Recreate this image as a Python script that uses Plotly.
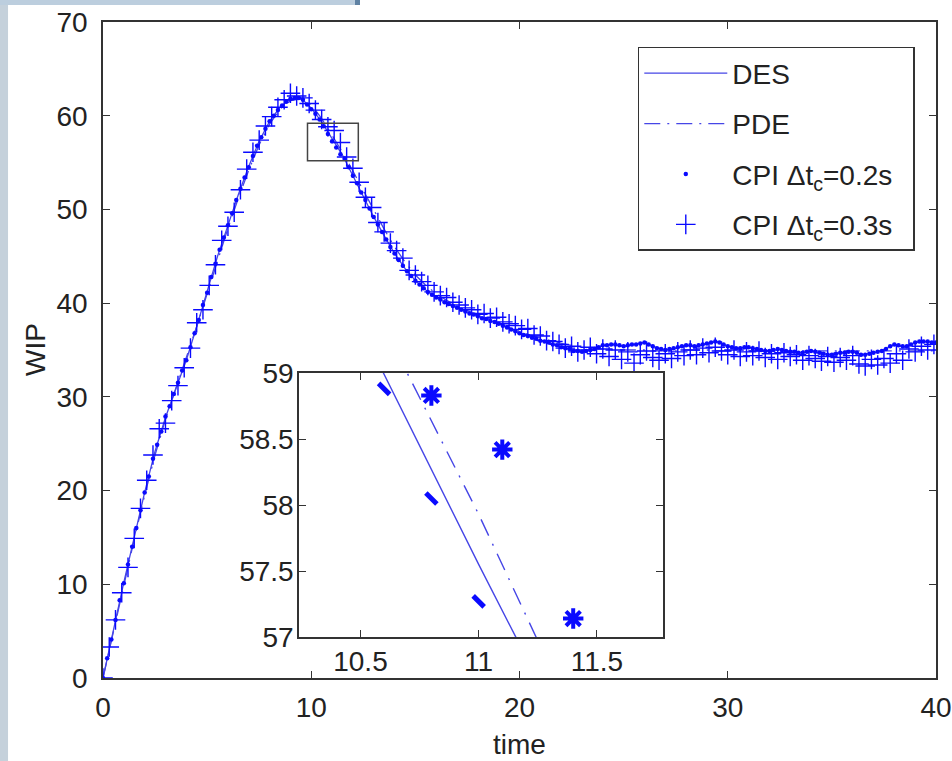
import plotly.graph_objects as go

# ---------------- data ----------------
DES_STEP = 0.5
des_wip = [
    0.0, 5.2, 10.2, 15.0, 19.8, 24.2, 27.8, 30.9, 33.9, 37.5,
    41.2, 45.0, 48.3, 51.6, 54.6, 57.3, 59.4, 60.9, 61.8, 61.9,
    60.8, 59.35, 57.55, 55.8, 53.6, 51.4, 49.2, 47.2, 45.3, 43.7,
    42.4, 41.4, 40.6, 40.0, 39.5, 39.0, 38.6, 38.2, 37.8, 37.3,
    36.8, 36.4, 36.0, 35.7, 35.3, 35.0, 34.8, 35.0, 35.5, 35.6,
    35.4, 35.6, 35.8, 35.3, 35.0, 35.2, 35.5, 35.4, 35.7, 35.9,
    35.4, 35.2, 35.3, 35.0, 34.9, 35.1, 34.8, 34.7, 34.9, 34.6,
    34.5, 34.7, 34.8, 34.5, 34.7, 35.0, 35.6, 35.3, 35.8, 35.9,
    35.8,
]

PDE_STEP = 0.5
pde_wip = [
    0.0, 5.0, 10.0, 14.8, 19.5, 23.8, 27.6, 30.9, 34.0, 37.5,
    41.0, 44.6, 48.0, 51.2, 54.2, 56.9, 59.1, 60.7, 61.6, 61.8,
    61.2, 59.7, 57.93, 56.1, 54.1, 52.0, 49.9, 47.9, 46.0, 44.4,
    43.0, 41.9, 41.0, 40.3, 39.7, 39.2, 38.7, 38.3, 37.8, 37.4,
    37.0, 36.6, 36.3, 36.0, 35.7, 35.5, 35.3, 35.2, 35.1, 35.0,
    35.0, 35.0, 35.0, 34.9, 34.9, 34.9, 35.0, 35.0, 35.0, 34.9,
    34.9, 34.9, 34.9, 34.9, 34.9, 34.9, 34.9, 34.9, 34.9, 34.9,
    34.9, 34.9, 34.9, 34.9, 34.9, 34.9, 34.9, 34.9, 34.9, 34.9,
    34.9,
]

CPI02_STEP = 0.2
cpi02_wip = [
    0.0, 2.1, 4.1, 6.2, 8.3,
    10.1, 12.1, 14.0, 16.0, 17.9,
    19.8, 21.5, 23.4, 24.9, 26.3,
    27.9, 29.0, 30.3, 31.5, 32.8,
    33.9, 35.3, 36.8, 38.2, 39.8,
    41.1, 42.8, 44.2, 45.7, 47.0,
    48.3, 49.6, 51.0, 52.2, 53.4,
    54.5, 55.7, 56.8, 57.7, 58.6,
    59.4, 60.0, 60.6, 61.1, 61.5,
    61.8, 61.9, 61.9, 61.7, 61.2,
    60.7, 60.2, 59.6, 58.88, 58.05,
    57.27, 56.6, 55.9, 55.4, 54.5,
    53.6, 52.8, 51.8, 51.0, 50.1,
    49.2, 48.4, 47.6, 46.8, 46.0,
    45.3, 44.6, 44.0, 43.4, 42.9,
    42.4, 42.0, 41.6, 41.2, 40.9,
    40.6, 40.4, 40.1, 39.9, 39.7,
    39.5, 39.3, 39.1, 38.9, 38.8,
    38.6, 38.4, 38.3, 38.1, 38.0,
    37.8, 37.6, 37.4, 37.2, 37.0,
    36.8, 36.6, 36.5, 36.3, 36.2,
    36.0, 35.9, 35.8, 35.6, 35.5,
    35.3, 35.2, 35.1, 34.9, 34.9,
    34.8, 34.9, 35.0, 35.1, 35.3,
    35.5, 35.5, 35.6, 35.6, 35.5,
    35.4, 35.5, 35.6, 35.6, 35.7,
    35.8, 35.6, 35.4, 35.2, 35.1,
    35.0, 35.1, 35.2, 35.3, 35.4,
    35.5, 35.5, 35.4, 35.5, 35.6,
    35.7, 35.8, 35.9, 35.8, 35.6,
    35.4, 35.3, 35.2, 35.2, 35.3,
    35.3, 35.2, 35.1, 35.0, 34.9,
    34.9, 35.0, 35.1, 35.0, 34.9,
    34.8, 34.8, 34.7, 34.7, 34.8,
    34.9, 34.8, 34.7, 34.6, 34.5,
    34.5, 34.6, 34.7, 34.7, 34.8,
    34.8, 34.7, 34.5, 34.5, 34.6,
    34.7, 34.8, 34.9, 35.1, 35.4,
    35.6, 35.5, 35.4, 35.4, 35.6,
    35.8, 35.9, 35.9, 35.9, 35.8,
    35.8,
]

CPI03_STEP = 0.3
cpi03_wip = [
    0.0, 3.3, 6.2, 9.1, 11.8, 14.9, 18.1, 21.1, 23.8, 26.6,
    27.2, 29.6, 31.2, 33.1, 35.2, 37.9, 39.3, 41.9, 44.1, 46.7,
    48.2, 49.7, 52.1, 54.3, 56.1, 57.4, 58.9, 59.9, 60.9, 61.7,
    62.4, 62.1, 61.9, 61.3, 60.6, 59.6, 58.83, 58.42, 57.14, 55.6,
    54.4, 52.9, 51.3, 50.2, 48.6, 47.6, 46.4, 45.6, 44.8, 43.5,
    43.0, 42.3, 41.9, 41.2, 40.8, 40.6, 40.1, 39.8, 39.5, 39.3,
    38.8, 38.9, 38.4, 38.5, 38.0, 37.8, 37.6, 37.2, 37.3, 36.6,
    36.5, 36.0, 35.9, 35.6, 35.2, 35.4, 34.8, 35.0, 35.3, 34.6,
    35.1, 34.3, 35.0, 34.0, 34.8, 33.6, 34.5, 34.9, 34.2, 33.9,
    34.6, 34.1, 34.8, 34.4, 35.0, 34.5, 35.2, 34.7, 35.3, 34.9,
    34.5, 35.0, 34.3, 34.8, 34.4, 34.9, 34.2, 34.6, 34.0, 34.7,
    34.3, 34.5, 33.9, 34.4, 34.1, 33.8, 34.3, 33.7, 34.2, 33.9,
    34.4, 33.5, 33.3, 34.0, 33.4, 34.1, 33.6, 34.6, 33.9, 35.1,
    34.8, 35.4, 35.0, 35.6,
]

main_xticks = [0, 10, 20, 30, 40]
main_yticks = [0, 10, 20, 30, 40, 50, 60, 70]
inset_xticks = [10.5, 11, 11.5]
inset_xticklabels = ["10.5", "11", "11.5"]
inset_yticks = [57, 57.5, 58, 58.5, 59]
inset_yticklabels = ["57", "57.5", "58", "58.5", "59"]
zoom_box_x = [9.82, 12.26]
zoom_box_y = [55.2, 59.2]

PAD = "\u00a0\u00a0"
names = ["DES" + PAD, "PDE" + PAD,
         "CPI \u0394t<sub>c</sub>=0.2s" + PAD, "CPI \u0394t<sub>c</sub>=0.3s" + PAD]


def grid(step, vals):
    return [round(i * step, 3) for i in range(len(vals))]


des_t = grid(DES_STEP, des_wip)
pde_t = grid(PDE_STEP, pde_wip)
c02_t = grid(CPI02_STEP, cpi02_wip)
c03_t = grid(CPI03_STEP, cpi03_wip)

# ---------------- styles ----------------
FONT = "Liberation Sans, Arial, Helvetica, sans-serif"
TXT = "#222222"
LINE_BLUE = "#4646e6"
MARK_BLUE = "#0a0aff"
AX = "#333333"
FS = 28

fig = go.Figure()

# main axes
fig.add_trace(go.Scatter(x=des_t, y=des_wip, mode="lines", name=names[0], legendgroup="a",
                         line=dict(color=LINE_BLUE, width=1.3)))
fig.add_trace(go.Scatter(x=pde_t, y=pde_wip, mode="lines", name=names[1], legendgroup="b",
                         line=dict(color=LINE_BLUE, width=1.3, dash="16px,7px,2px,7px")))
fig.add_trace(go.Scatter(x=c02_t, y=cpi02_wip, mode="markers", name=names[2], legendgroup="c",
                         marker=dict(symbol="circle", size=4.5, color=MARK_BLUE)))
fig.add_trace(go.Scatter(x=c03_t, y=cpi03_wip, mode="markers", name=names[3], legendgroup="d",
                         marker=dict(symbol="cross-thin", size=14, color=MARK_BLUE,
                                     line=dict(color=MARK_BLUE, width=1.4))))

# inset axes
fig.add_trace(go.Scatter(x=des_t, y=des_wip, mode="lines", showlegend=False,
                         xaxis="x2", yaxis="y2", line=dict(color=LINE_BLUE, width=1.4)))
fig.add_trace(go.Scatter(x=pde_t, y=pde_wip, mode="lines", showlegend=False,
                         xaxis="x2", yaxis="y2",
                         line=dict(color=LINE_BLUE, width=1.4, dash="18px,9px,2px,9px")))
fig.add_trace(go.Scatter(x=c02_t, y=cpi02_wip, mode="markers", showlegend=False,
                         xaxis="x2", yaxis="y2",
                         marker=dict(symbol="line-nw", size=11, color=MARK_BLUE,
                                     line=dict(color=MARK_BLUE, width=5))))
fig.add_trace(go.Scatter(x=c03_t, y=cpi03_wip, mode="markers", showlegend=False,
                         xaxis="x2", yaxis="y2",
                         marker=dict(symbol="asterisk", size=17, color=MARK_BLUE,
                                     line=dict(color=MARK_BLUE, width=4))))

axis_common = dict(showgrid=False, zeroline=False, showline=True, linecolor=AX, linewidth=1.5,
                   mirror="ticks", ticks="inside", ticklen=7, tickwidth=1.3, tickcolor=AX,
                   tickfont=dict(family=FONT, size=FS, color=TXT))

fig.update_layout(
    width=952, height=761, autosize=False,
    margin=dict(l=103, r=16, t=22, b=83),
    paper_bgcolor="white", plot_bgcolor="white",
    font=dict(family=FONT, size=FS, color=TXT),
    xaxis=dict(domain=[0, 1], range=[0, 40], tickvals=main_xticks, ticklabelstandoff=4,
               automargin=False, **axis_common),
    yaxis=dict(domain=[0, 1], range=[0, 70], tickvals=main_yticks, ticklabelstandoff=8,
               automargin=False, **axis_common),
    xaxis2=dict(domain=[0.2353, 0.6723], anchor="y2", range=[10.24, 11.78],
                tickvals=inset_xticks, ticktext=inset_xticklabels, ticklabelstandoff=-1,
                automargin=False, **axis_common),
    yaxis2=dict(domain=[0.0625, 0.4649], anchor="x2", range=[57, 59],
                tickvals=inset_yticks, ticktext=inset_yticklabels, ticklabelstandoff=-2,
                automargin=False, **axis_common),
    legend=dict(x=0.642, y=0.962, xanchor="left", yanchor="top", bgcolor="white",
                bordercolor=AX, borderwidth=1.5, traceorder="grouped", tracegroupgap=11,
                font=dict(family=FONT, size=FS, color=TXT), itemwidth=83),
    showlegend=True,
    shapes=[
        dict(type="rect", xref="x", yref="y", x0=zoom_box_x[0], x1=zoom_box_x[1],
             y0=zoom_box_y[0], y1=zoom_box_y[1], line=dict(color="#444444", width=1.5)),
        dict(type="rect", xref="paper", yref="paper", x0=-0.13, x1=-0.114, y0=-0.14, y1=1.04,
             line=dict(width=0), fillcolor="#c5d1db", layer="below"),
        dict(type="rect", xref="paper", yref="paper", x0=-0.13, x1=0.3025, y0=1.0259, y1=1.04,
             line=dict(width=0), fillcolor="#bccede", layer="below"),
        dict(type="rect", xref="paper", yref="paper", x0=0.3025, x1=0.3085, y0=1.0259, y1=1.04,
             line=dict(width=0), fillcolor="#5f82a3", layer="below"),
    ],
    annotations=[
        dict(text="WIP", xref="paper", yref="paper", x=-0.0816, y=0.5, textangle=-90,
             xanchor="center", yanchor="middle",
             showarrow=False, font=dict(family=FONT, size=FS, color=TXT)),
        dict(text="time", xref="paper", yref="paper", x=0.5006, y=-0.102,
             xanchor="center", yanchor="middle", showarrow=False,
             font=dict(family=FONT, size=FS, color=TXT)),
    ],
)

fig.write_html(
    "out.html",
    config={"displayModeBar": False},
    post_script="document.body.style.margin='0';document.body.style.padding='0';"
                "document.body.style.overflow='hidden';",
)
